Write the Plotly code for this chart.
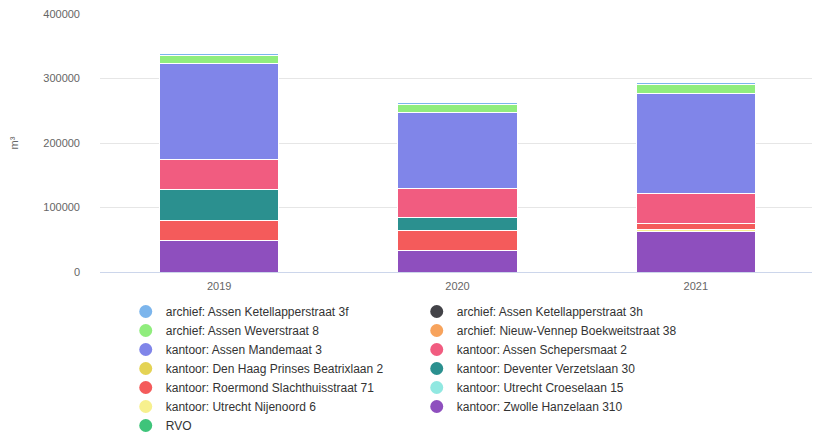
import plotly.graph_objects as go

years = ["2019", "2020", "2021"]

# series in legend order (Highcharts stacks the first one on top)
names = [
    "archief: Assen Ketellapperstraat 3f",
    "archief: Assen Ketellapperstraat 3h",
    "archief: Assen Weverstraat 8",
    "archief: Nieuw-Vennep Boekweitstraat 38",
    "kantoor: Assen Mandemaat 3",
    "kantoor: Assen Schepersmaat 2",
    "kantoor: Den Haag Prinses Beatrixlaan 2",
    "kantoor: Deventer Verzetslaan 30",
    "kantoor: Roermond Slachthuisstraat 71",
    "kantoor: Utrecht Croeselaan 15",
    "kantoor: Utrecht Nijenoord 6",
    "kantoor: Zwolle Hanzelaan 310",
    "RVO",
]

ketellapper_3f = [3000, 4000, 3500]
ketellapper_3h = [0, 0, 0]
weverstraat = [12000, 12000, 14000]
nieuw_vennep = [0, 0, 0]
mandemaat = [149000, 117000, 155000]
schepersmaat = [46000, 45000, 47500]
den_haag = [0, 0, 0]
deventer = [48000, 20000, 0]
roermond = [31000, 31000, 8000]
croeselaan = [0, 0, 0]
nijenoord = [0, 0, 3000]
zwolle = [49000, 34000, 63500]
rvo = [0, 0, 0]

values = [ketellapper_3f, ketellapper_3h, weverstraat, nieuw_vennep, mandemaat,
          schepersmaat, den_haag, deventer, roermond, croeselaan, nijenoord,
          zwolle, rvo]

colors = ["#7cb5ec", "#434348", "#90ed7d", "#f7a35c", "#8085e9", "#f15c80",
          "#e4d354", "#2b908f", "#f45b5b", "#91e8e1", "#f7f08e", "#8e4fbe",
          "#3ec47a"]

fig = go.Figure()

# bars: add bottom-most series first
for name, vals, col in reversed(list(zip(names, values, colors))):
    fig.add_trace(go.Bar(
        x=years, y=[v if v else None for v in vals], name=name,
        marker=dict(color=col, line=dict(color="white", width=1)),
        showlegend=False, legendgroup=name,
    ))

# legend entries with round symbols
for name, col in zip(names, colors):
    fig.add_trace(go.Scatter(
        x=[None], y=[None], mode="markers", name=name, legendgroup=name,
        marker=dict(color=col, size=13, symbol="circle"),
    ))

# the page body adds an 8px offset, so margins are shifted to compensate
fig.update_layout(
    width=820, height=432,
    barmode="stack", bargap=0.5,
    plot_bgcolor="white", paper_bgcolor="white",
    margin=dict(l=92, r=13, t=6, b=168, autoexpand=False),
    font=dict(family="Liberation Sans, Arial, sans-serif", size=11, color="#666666"),
    xaxis=dict(showline=True, linecolor="#ccd6eb", linewidth=1, showgrid=False,
               ticks="", ticklabelstandoff=4,
               tickfont=dict(size=11, color="#666666")),
    yaxis=dict(range=[0, 400000], tickvals=[0, 100000, 200000, 300000, 400000],
               tickformat="d", ticklabeloverflow="allow",
               gridcolor="#e6e6e6", zeroline=False, ticks="",
               ticklabelstandoff=19,
               title=dict(text="m³", font=dict(size=11, color="#666666"), standoff=26),
               tickfont=dict(size=11, color="#666666")),
    legend=dict(orientation="h", x=0.036, xanchor="left", y=-0.097, yanchor="top",
                traceorder="normal", entrywidth=246, itemwidth=30,
                tracegroupgap=0, font=dict(size=12, color="#333333")),
)

fig.write_html("out.html")
